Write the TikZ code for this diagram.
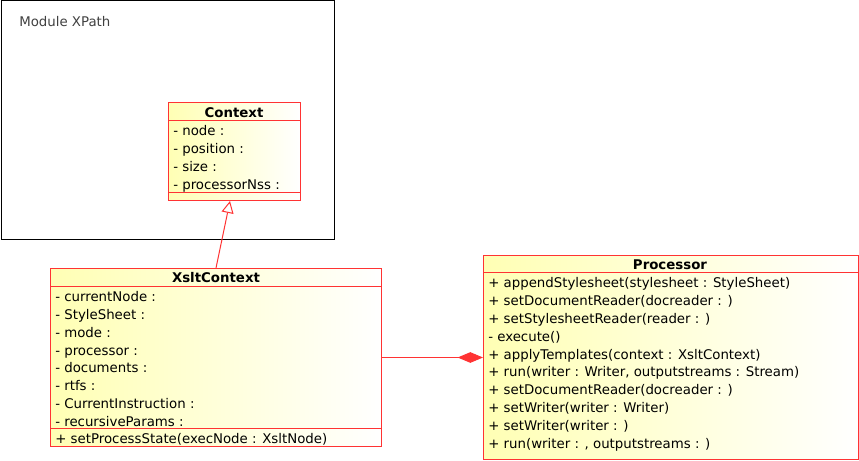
\documentclass[tikz,border=0pt]{standalone}
\usepackage{fontspec}
\setmainfont{DejaVu Sans}
\usetikzlibrary{arrows.meta}
\definecolor{umlred}{RGB}{255,51,51}
\definecolor{umlyel}{RGB}{255,255,180}
\definecolor{pkgtext}{RGB}{64,64,64}
\begin{document}
\begin{tikzpicture}[x=0.75pt,y=-0.75pt,
  classbox/.style={draw=umlred, line width=0.75pt, left color=umlyel, right color=white,
    rectangle, inner sep=0pt, anchor=north west},
  sepline/.style={draw=umlred, line width=0.75pt},
  rowtext/.style={anchor=west, inner sep=0pt, text height=7.3pt, text depth=2.3pt,
    font=\fontsize{10}{12}\selectfont, text=black},
  headtext/.style={anchor=center, inner sep=0pt, text height=7.3pt, text depth=2.3pt,
    font=\fontsize{10}{12}\selectfont\bfseries, text=black},
  gen/.style={draw=umlred, line width=0.75pt, -{Triangle[open, length=9pt, width=9pt, fill=white]}},
  comp/.style={draw=umlred, line width=0.75pt, -{Diamond[length=19pt, width=8pt, fill=umlred]}}]
\useasboundingbox (0,0) rectangle (859,460);
% package
\node[draw=black, line width=0.75pt, rectangle, inner sep=0pt, anchor=north west,
  minimum width=250.2pt, minimum height=178.9pt] (pkg) at (0.5,0.5) {};
\node[anchor=west, inner sep=0pt, text height=7.3pt, text depth=2.3pt,
  font=\fontsize{10}{12}\selectfont, text=pkgtext] (pkgname) at (19,23) {Module XPath};
% Context
\node[classbox, minimum width=99pt, minimum height=73.5pt] (ctx) at (168,102) {};
\node[headtext] (ctxh) at (234,114.5) {Context};
\draw[sepline] (168,120) -- (300,120);
\draw[sepline] (168,192) -- (300,192);
\foreach \t [count=\i] in {- node :, - position :, - size :, - processorNss :}
  \node[rowtext] (ctxr\i) at (173,{132.5+17.9*(\i-1)}) {\t};
% XsltContext
\node[classbox, minimum width=248.25pt, minimum height=133.5pt] (xc) at (50,268) {};
\node[headtext] (xch) at (216,279.5) {XsltContext};
\draw[sepline] (50,286) -- (381,286);
\draw[sepline] (50,428) -- (381,428);
\foreach \t [count=\i] in {- currentNode :, - StyleSheet :, - mode :, - processor :, - documents :, - rtfs :, - CurrentInstruction :, - recursiveParams :}
  \node[rowtext] (xcr\i) at (55,{298.5+17.75*(\i-1)}) {\t};
\node[rowtext] (xcm1) at (55,440.5) {+ setProcessState(execNode : XsltNode)};
% Processor
\node[classbox, minimum width=281.25pt, minimum height=153pt] (proc) at (483,255) {};
\node[headtext] (proch) at (670,266.5) {Processor};
\draw[sepline] (483,272) -- (858,272);
\foreach \t [count=\i] in {+ appendStylesheet(stylesheet : StyleSheet), + setDocumentReader(docreader : ), + setStylesheetReader(reader : ), - execute(), + applyTemplates(context : XsltContext), {+ run(writer : Writer, outputstreams : Stream)}, + setDocumentReader(docreader : ), + setWriter(writer : Writer), + setWriter(writer : ), {+ run(writer : , outputstreams : )}}
  \node[rowtext] (procr\i) at (488,{284.5+17.8*(\i-1)}) {\t};
% connectors
\draw[gen] ([xshift=124.5pt]xc.north west) -- ([xshift=46.5pt]ctx.south west);
\draw[comp] (xc.east) -- (proc.west);
\end{tikzpicture}
\end{document}
